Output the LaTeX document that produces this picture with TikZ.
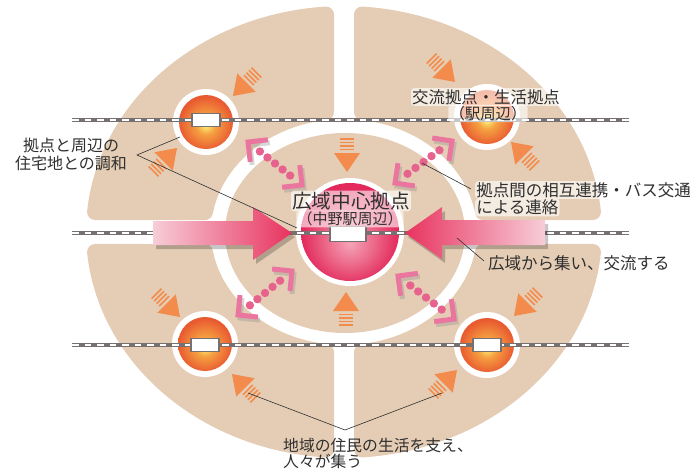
\documentclass[tikz,border=0pt]{standalone}
\usepackage{fontspec}
\setmainfont{Noto Sans CJK JP}
\usetikzlibrary{calc}

\definecolor{beige}{HTML}{E4CDB4}
\definecolor{railgray}{HTML}{777070}
\definecolor{orangeA}{HTML}{F28B4C}
\definecolor{pinkA}{HTML}{E8335F}
\definecolor{pinkL}{HTML}{F7CDD8}
\definecolor{chevpink}{HTML}{EA76A0}
\definecolor{dotpink}{HTML}{E8628E}
\definecolor{txtgray}{HTML}{2F2F2F}
\definecolor{ballY}{HTML}{FFF27A}
\definecolor{ballO}{HTML}{F5A040}
\definecolor{ballR}{HTML}{EC6B35}
\definecolor{ballE}{HTML}{E85A30}
\definecolor{redC}{HTML}{F4A3B8}
\definecolor{redM}{HTML}{EC6A8A}
\definecolor{redE}{HTML}{E2285C}

\pgfdeclareradialshading{orball}{\pgfpoint{0bp}{-3bp}}{color(0bp)=(ballY); color(9bp)=(ballO); color(21bp)=(ballR); color(25bp)=(ballE); color(50bp)=(ballE)}
\pgfdeclareradialshading{redball}{\pgfpoint{0bp}{-6bp}}{color(0bp)=(redC); color(12bp)=(redM); color(25bp)=(redE); color(50bp)=(redE)}

\newcommand\orarrow[3]{%
  \begin{scope}[shift={(#1,#2)}, rotate=#3]
    \fill[orangeA] (0,0) -- (-19,-13) -- (-19,13) -- cycle;
    \foreach \h in {22.5,26,29.5,33} \draw[orangeA, line width=1.6pt] (-\h,-7) -- (-\h,7);
  \end{scope}}

\tikzset{
  sector/.style={fill=beige, draw=beige, line width=16pt, line join=round},
  rail/.style={railgray, line width=4.5pt},
  raildash/.style={white, line width=1.6pt, dash pattern=on 6.5pt off 6pt},
  station/.style={draw=railgray, fill=white, line width=1.8pt, minimum width=28pt, minimum height=13pt, inner sep=0pt},
  leader/.style={draw=txtgray, line width=0.6pt},
  lbl/.style={text=txtgray, font=\fontsize{16pt}{18pt}\selectfont, inner sep=0pt},
  halo/.style={fill=white, fill opacity=0.6, text opacity=1, rounded corners=3pt, inner sep=1.2pt},
  chevron/.style={chevpink, line width=5pt, line join=miter},
  chevshadow/.style={black!45, opacity=0.35, line width=5pt, line join=miter},
}

\begin{document}
\begin{tikzpicture}[x=1pt, y=-1pt]
\useasboundingbox (0,0) rectangle (690,471);

\pgfmathsetmacro\aB{-180+asin(20/218)}
\pgfmathsetmacro\aA{-90-asin(18/250)}
\pgfmathsetmacro\nD{90+asin(18/141)}
\pgfmathsetmacro\nC{180-asin(20/121)}

% outer quarter sectors
\foreach \sx/\sy in {1/1,-1/1,1/-1,-1/-1}{
  \begin{scope}[shift={(344,232)}, xscale=\sx, yscale=\sy]
    \filldraw[sector] plot[domain=\aB:\aA, samples=60] ({250*cos(\x)},{218*sin(\x)})
      -- plot[domain=\nD:\nC, samples=40] ({141*cos(-\x)},{121*sin(-\x)}) -- cycle;
  \end{scope}
}
% inner disk
\fill[beige] (345,233) ellipse [x radius=120, y radius=100];

% station spheres
\foreach \px/\py in {206/122, 487/117, 205/344, 487/345}{
  \fill[white] (\px,\py) circle [radius=33];
  \shade[shading=orball] (\px,\py) circle [radius=27];
}
% central sphere
\fill[white] (350,232) circle [radius=54];
\shade[shading=redball] (350,232) circle [radius=49];

% rails
\foreach \ry in {120,233,345}{
  \draw[rail] (72,\ry) -- (629,\ry);
  \draw[raildash] (72,\ry) -- (629,\ry);
}
% stations
\node[station] (stTL) at (206,120) {};
\node[station] (stBL) at (205,345) {};
\node[station] (stBR) at (487,345) {};
\node[station, minimum width=36pt, minimum height=15pt] (stC) at (348,234) {};

% big pink arrows (shadows then arrows)
\fill[black, opacity=0.22] (156,225) -- (256,225) -- (256,211) -- (295,237) -- (256,264) -- (256,249) -- (156,249) -- cycle;
\shade[left color=pinkL, right color=pinkA] (153,221) -- (253,221) -- (253,207) -- (292,233) -- (253,260) -- (253,245) -- (153,245) -- cycle;
\fill[black, opacity=0.22] (548,224) -- (445,224) -- (445,211) -- (408,237) -- (445,263) -- (445,249) -- (548,249) -- cycle;
\shade[left color=pinkA, right color=pinkL] (545,220) -- (442,220) -- (442,207) -- (405,233) -- (442,259) -- (442,245) -- (545,245) -- cycle;

% dotted double arrows with chevrons
\coordinate (ulA) at (248,142); \coordinate (ulB) at (302,185);
\coordinate (urA) at (452,141); \coordinate (urB) at (395,183);
\coordinate (llA) at (292,271); \coordinate (llB) at (238,315);
\coordinate (lrA) at (398,276); \coordinate (lrB) at (454,319);
\foreach \A/\B in {ulA/ulB, urA/urB, llA/llB, lrA/lrB}{
  \coordinate (sA) at ($(\A)+(2,3)$);
  \coordinate (sB) at ($(\B)+(2,3)$);
  \draw[chevshadow] ($(sA)!20pt!45:(sB)$) -- (sA) -- ($(sA)!20pt!-45:(sB)$);
  \draw[chevshadow] ($(sB)!20pt!45:(sA)$) -- (sB) -- ($(sB)!20pt!-45:(sA)$);
  \draw[chevron] ($(\A)!20pt!45:(\B)$) -- (\A) -- ($(\A)!20pt!-45:(\B)$);
  \draw[chevron] ($(\B)!20pt!45:(\A)$) -- (\B) -- ($(\B)!20pt!-45:(\A)$);
  \foreach \t in {0.22,0.36,0.5,0.64,0.78}
    \fill[dotpink] ($(\A)!\t!(\B)$) circle [radius=4.2];
}

% orange arrows
\orarrow{347}{172}{-90}
\orarrow{346}{292}{90}
\orarrow{233}{96}{-135}
\orarrow{177}{148}{45}
\orarrow{455}{82}{-45}
\orarrow{511}{142}{135}
\orarrow{180}{317}{-45}
\orarrow{232}{374}{135}
\orarrow{514}{316}{-135}
\orarrow{457}{370}{45}

% leader lines
\coordinate (v1) at (137,155);
\coordinate (e1a) at (180,137);
\coordinate (e1b) at (297,228);
\draw[leader] (e1a) -- (v1) -- (e1b);
\coordinate (e2a) at (422,163);
\coordinate (e2b) at (471,189);
\draw[leader] (e2a) -- (e2b);
\coordinate (e3a) at (457,238);
\coordinate (e3b) at (484,261);
\draw[leader] (e3a) -- (e3b);
\coordinate (v4) at (345,430);
\coordinate (e4a) at (248,393);
\coordinate (e4b) at (442,393);
\draw[leader] (e4a) -- (v4) -- (e4b);

% texts
\node[lbl] (t1a) at (71,145) {拠点と周辺の};
\node[lbl] (t1b) at (71,163) {住宅地との調和};
\node[lbl, halo, font=\fontsize{16.4pt}{18pt}\selectfont] (t2a) at (486,97) {交流拠点・生活拠点};
\node[lbl, halo, font=\fontsize{15.4pt}{17pt}\selectfont] (t2b) at (488,113.5) {（駅周辺）};
\node[lbl, halo, anchor=west, font=\fontsize{16.5pt}{18pt}\selectfont] (t3a) at (475,190) {拠点間の相互連携・バス交通};
\node[lbl, halo, anchor=west, font=\fontsize{16.5pt}{18pt}\selectfont] (t3b) at (475,207.5) {による連絡};
\node[lbl, anchor=west, font=\fontsize{16.5pt}{18pt}\selectfont] (t4) at (488,263) {広域から集い、交流する};
\node[lbl, anchor=west, font=\fontsize{15.8pt}{17pt}\selectfont] (t5a) at (283,445) {地域の住民の生活を支え、};
\node[lbl, anchor=west, font=\fontsize{15.8pt}{17pt}\selectfont] (t5b) at (283,461) {人々が集う};
\node[lbl, halo, font=\fontsize{19.6pt}{22pt}\selectfont] (t6a) at (351,201) {広域中心拠点};
\node[lbl, halo, font=\fontsize{15pt}{17pt}\selectfont] (t6b) at (350,219) {（中野駅周辺）};
\end{tikzpicture}
\end{document}
